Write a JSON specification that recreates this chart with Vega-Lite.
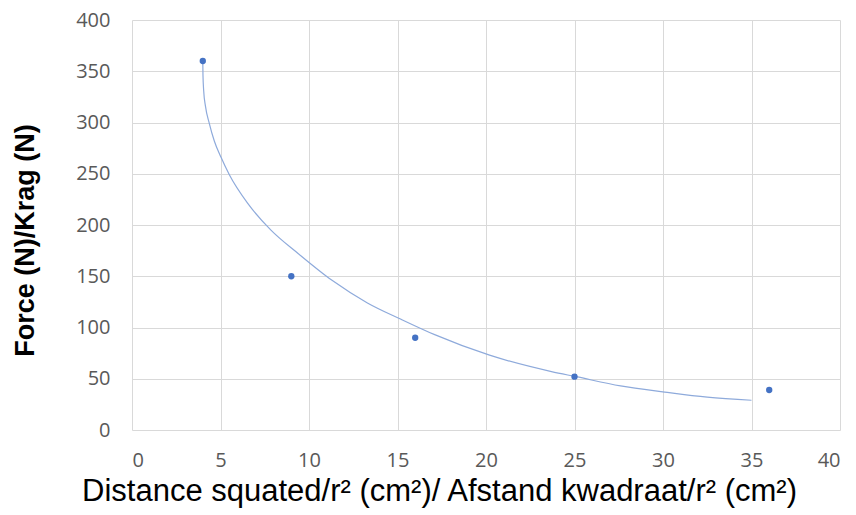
{
  "$schema": "https://vega.github.io/schema/vega-lite/v6.json",
  "width": 708,
  "height": 410,
  "autosize": {"type": "none"},
  "padding": {"left": 132, "top": 20, "right": 16, "bottom": 85},
  "background": "white",
  "config": {
    "view": {"stroke": null},
    "axis": {
      "grid": true,
      "gridColor": "#d9d9d9",
      "gridWidth": 1,
      "domain": false,
      "ticks": false,
      "labelFont": "Open Sans",
      "labelFontSize": 20,
      "labelColor": "#595959",
      "titleFont": "Liberation Sans",
      "titleColor": "#000000"
    }
  },
  "datasets": {
    "points": [
      {"x": 4, "y": 360},
      {"x": 9, "y": 150},
      {"x": 16, "y": 90},
      {"x": 25, "y": 52},
      {"x": 36, "y": 39}
    ],
    "curve": [
      {"x": 4.0, "y": 359},
      {"x": 4.01, "y": 346},
      {"x": 4.05, "y": 331},
      {"x": 4.15, "y": 316},
      {"x": 4.37, "y": 299},
      {"x": 4.65, "y": 282},
      {"x": 5.03, "y": 266},
      {"x": 5.5, "y": 249},
      {"x": 6.54, "y": 221},
      {"x": 7.85, "y": 195},
      {"x": 9.4, "y": 172},
      {"x": 11.3, "y": 146},
      {"x": 13.3, "y": 124},
      {"x": 15.2, "y": 108},
      {"x": 17.1, "y": 93},
      {"x": 20.2, "y": 73},
      {"x": 23.7, "y": 57},
      {"x": 25.1, "y": 52},
      {"x": 27.6, "y": 43},
      {"x": 30.1, "y": 37},
      {"x": 32.5, "y": 32},
      {"x": 35.0, "y": 29}
    ]
  },
  "layer": [
    {
      "data": {"name": "curve"},
      "mark": {"type": "line", "interpolate": "monotone", "color": "#8eaadb", "strokeWidth": 1.2},
      "encoding": {
        "x": {
          "field": "x", "type": "quantitative",
          "scale": {"domain": [0, 40], "nice": false},
          "axis": {
            "values": [0, 5, 10, 15, 20, 25, 30, 35, 40],
            "labelPadding": 20,
            "title": "Distance squated/r² (cm²)/ Afstand kwadraat/r² (cm²)",
            "titleFontSize": 31,
            "titleFontWeight": "normal",
            "titlePadding": 6,
            "titleX": 307
          }
        },
        "y": {
          "field": "y", "type": "quantitative",
          "scale": {"domain": [0, 400], "nice": false},
          "axis": {
            "values": [0, 50, 100, 150, 200, 250, 300, 350, 400],
            "labelPadding": 22,
            "title": "Force (N)/Krag (N)",
            "titleFontSize": 27,
            "titleFontWeight": "bold",
            "titlePadding": 36,
            "titleY": 220
          }
        }
      }
    },
    {
      "data": {"name": "points"},
      "mark": {"type": "circle", "color": "#4472c4", "size": 40, "opacity": 1},
      "encoding": {
        "x": {"field": "x", "type": "quantitative"},
        "y": {"field": "y", "type": "quantitative"}
      }
    }
  ]
}
